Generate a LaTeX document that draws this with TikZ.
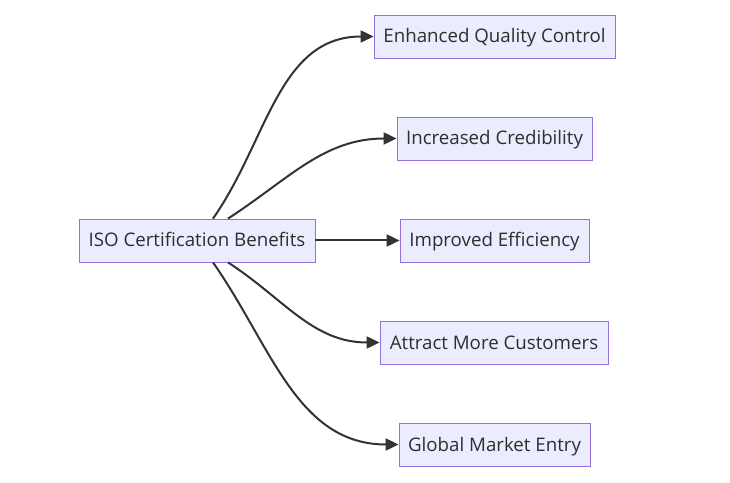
\documentclass[tikz,border=0pt]{standalone}
\usepackage{fontspec}
\setmainfont{Open Sans}
\usetikzlibrary{arrows.meta}
\definecolor{boxfill}{HTML}{ECECFF}
\definecolor{boxline}{HTML}{9370DB}
\definecolor{edgecol}{HTML}{333333}
\tikzset{
    benefit/.style={draw=boxline, fill=boxfill, line width=0.8pt, minimum height=43pt,
        inner xsep=4pt, text height=14pt, text depth=1pt,
        font=\fontsize{18.7}{22}\selectfont, text=edgecol!90!black},
    link/.style={draw=edgecol, line width=2pt, -{Triangle[length=13pt,width=12pt]}}
}
\begin{document}
\begin{tikzpicture}[x=1pt, y=1pt]
    \useasboundingbox (0,0) rectangle (730,482);

    % -- nodi --
    \node[benefit, minimum width=236pt] (iso) at (197,241.5) {ISO Certification Benefits};
    \node[benefit, minimum width=241pt] (quality) at (494.5,445.5) {Enhanced Quality Control};
    \node[benefit, minimum width=195pt] (cred) at (494.5,343.5) {Increased Credibility};
    \node[benefit, minimum width=189pt] (eff) at (494.5,241.5) {Improved Efficiency};
    \node[benefit, minimum width=228pt] (cust) at (494,139.5) {Attract More Customers};
    \node[benefit, minimum width=191pt] (global) at (494.5,37.5) {Global Market Entry};

    % -- collegamenti --
    \draw[link] ([xshift=16pt]iso.north) to[out=55, in=180] (quality.west);
    \draw[link] ([xshift=31pt]iso.north) to[out=33, in=180] (cred.west);
    \draw[link] (iso.east) -- (eff.west);
    \draw[link] ([xshift=31pt]iso.south) to[out=-33, in=180] (cust.west);
    \draw[link] ([xshift=16pt]iso.south) to[out=-55, in=180] (global.west);
\end{tikzpicture}
\end{document}
